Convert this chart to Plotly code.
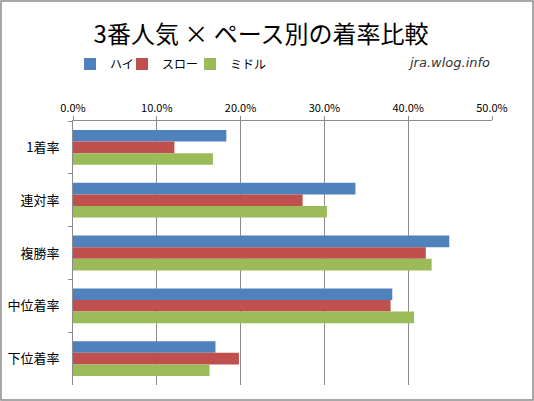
import plotly.graph_objects as go

# データ
categories = ['1着率', '連対率', '複勝率', '中位着率', '下位着率']
series_names = ['ハイ', 'スロー', 'ミドル']
high_vals = [0.183, 0.337, 0.449, 0.381, 0.170]
slow_vals = [0.121, 0.274, 0.421, 0.379, 0.198]
middle_vals = [0.167, 0.303, 0.428, 0.407, 0.163]
x_ticks = [0.0, 0.1, 0.2, 0.3, 0.4, 0.5]

colors = ['#4F81BD', '#C0504D', '#9BBB59']
legend_widths = [7, 23, 40]  # 凡例の間隔調整

W, H = 534, 401
ml, mr, mt, mb = 73, 42, 121, 16
pw = W - ml - mr
ph = H - mt - mb

fig = go.Figure()
for name, vals, c, lw in zip(series_names, [high_vals, slow_vals, middle_vals], colors, legend_widths):
    fig.add_trace(go.Bar(
        y=categories,
        x=vals,
        name=name,
        orientation='h',
        marker=dict(color=c, line=dict(width=0)),
        legendwidth=lw,
    ))

fig.update_layout(
    width=W,
    height=H,
    margin=dict(l=ml, r=mr, t=mt, b=mb),
    paper_bgcolor='white',
    plot_bgcolor='white',
    barmode='group',
    bargap=0.34,
    bargroupgap=0,
    font=dict(family='Noto Sans CJK JP', color='black'),
    title=dict(
        text='3番人気 × ペース別の着率比較',
        x=261 / W,
        xanchor='center',
        y=1 - 35 / H,
        yanchor='middle',
        font=dict(size=24, color='black'),
    ),
    showlegend=True,
    legend=dict(
        orientation='h',
        x=70 / W,
        xanchor='left',
        y=1 - 64 / H,
        yanchor='middle',
        xref='container',
        yref='container',
        font=dict(size=12),
        itemwidth=30,
        traceorder='normal',
    ),
    xaxis=dict(
        side='top',
        range=[0, 0.5],
        tickvals=x_ticks,
        tickformat='.1%',
        showgrid=True,
        gridcolor='#8C8C8C',
        gridwidth=1,
        showline=True,
        linecolor='#8C8C8C',
        ticks='outside',
        ticklen=4,
        tickcolor='#8C8C8C',
        tickfont=dict(size=11, color='black'),
        zeroline=False,
        automargin=False,
        fixedrange=True,
    ),
    yaxis=dict(
        autorange='reversed',
        showgrid=False,
        showline=True,
        linecolor='#8C8C8C',
        ticks='outside',
        ticklen=4,
        tickcolor='#8C8C8C',
        tickson='boundaries',
        ticklabelstandoff=10,
        tickfont=dict(size=13, color='black'),
        automargin=False,
        fixedrange=True,
    ),
)

# ウォーターマーク
fig.add_annotation(
    text='<i>jra.wlog.info</i>',
    xref='paper', yref='paper',
    x=(492 - ml) / pw, xanchor='right',
    y=(H - mb - 62) / ph, yanchor='middle',
    showarrow=False,
    font=dict(family='DejaVu Sans', size=13, color='#333333'),
)

# 外枠
fig.add_shape(
    type='rect',
    xref='paper', yref='paper',
    x0=(1 - ml) / pw, x1=(W - 1 - ml) / pw,
    y0=(1 - mb) / ph, y1=(H - 1 - mb) / ph,
    line=dict(color='#8C8C8C', width=1.5),
    layer='above',
)

fig.write_html('out.html', config={'displayModeBar': False},
               post_script="document.body.style.margin='0';")
